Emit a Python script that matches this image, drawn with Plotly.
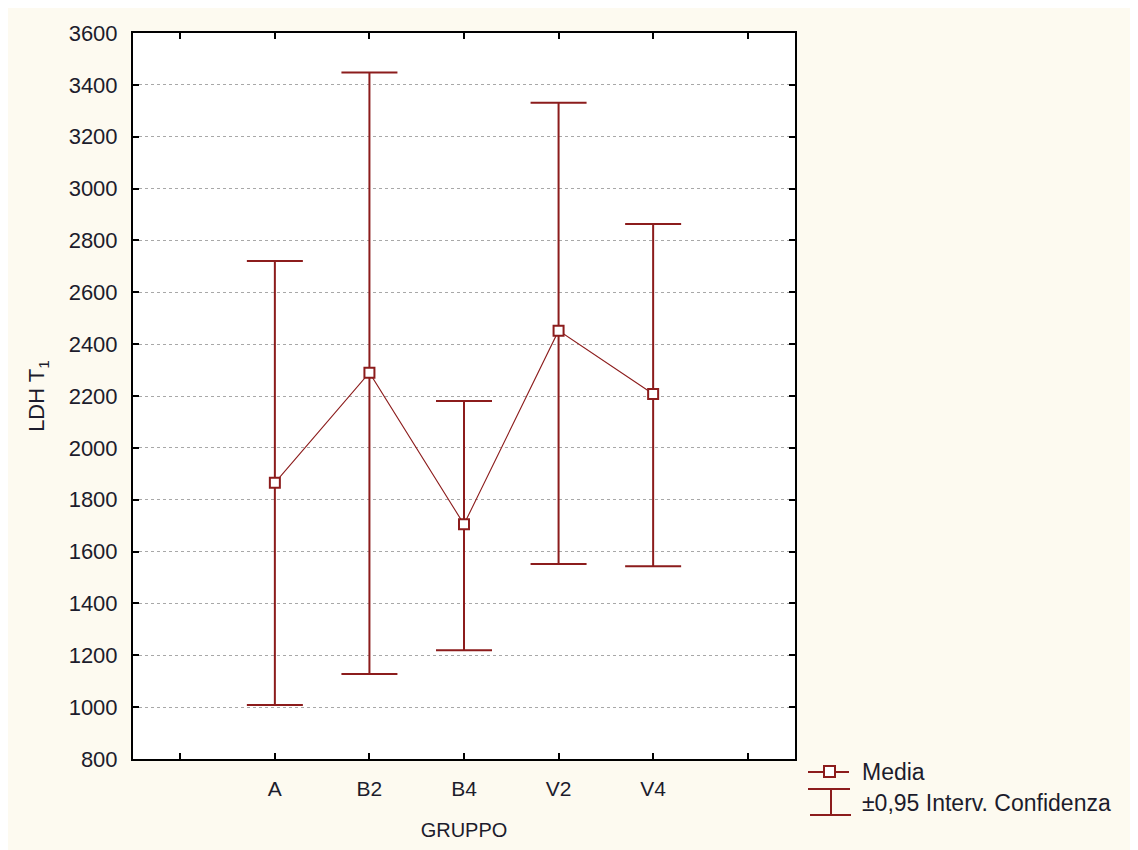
import plotly.graph_objects as go

# ---- data ----
groups = ["A", "B2", "B4", "V2", "V4"]
means = [1865, 2290, 1705, 2452, 2208]
ci_upper = [2721, 3448, 2181, 3331, 2863]
ci_lower = [1008, 1128, 1219, 1552, 1543]
y_ticks = [800, 1000, 1200, 1400, 1600, 1800, 2000, 2200, 2400, 2600, 2800, 3000, 3200, 3400, 3600]

positions = list(range(1, len(groups) + 1))
err_plus = [u - m for u, m in zip(ci_upper, means)]
err_minus = [m - l for m, l in zip(means, ci_lower)]

RED = "#8c1c1c"
TXT = "#1c1c2c"
CREAM = "#fdfaf0"
FONT = "Liberation Sans, Arial, sans-serif"

OFF = 8  # page body margin
W, H = 1130, 842
# plot frame in page pixel coordinates
L, R, T, B = 133, 795, 33, 759


def px_x(p):
    return (p - L) / (R - L)


def px_y(p):
    return (B - p) / (B - T)


fig = go.Figure()
fig.add_trace(go.Scatter(
    x=positions, y=means, mode="lines+markers",
    line=dict(color=RED, width=1.1),
    marker=dict(symbol="square", size=10, color="white", line=dict(color=RED, width=2)),
    error_y=dict(type="data", symmetric=False, array=err_plus, arrayminus=err_minus,
                 color=RED, thickness=2, width=28),
    showlegend=False, cliponaxis=False,
))

shapes = []
# legend: Media symbol
shapes.append(dict(type="line", xref="paper", yref="paper", x0=px_x(808), x1=px_x(849),
                   y0=px_y(772), y1=px_y(772), line=dict(color=RED, width=2)))
shapes.append(dict(type="rect", xref="paper", yref="paper", x0=px_x(824), x1=px_x(835),
                   y0=px_y(777), y1=px_y(766), fillcolor="white", line=dict(color=RED, width=2)))
# legend: CI symbol (I-beam)
shapes.append(dict(type="line", xref="paper", yref="paper", x0=px_x(808), x1=px_x(850),
                   y0=px_y(789), y1=px_y(789), line=dict(color=RED, width=2)))
shapes.append(dict(type="line", xref="paper", yref="paper", x0=px_x(810), x1=px_x(851),
                   y0=px_y(815), y1=px_y(815), line=dict(color=RED, width=2)))
shapes.append(dict(type="line", xref="paper", yref="paper", x0=px_x(831), x1=px_x(831),
                   y0=px_y(789), y1=px_y(815), line=dict(color=RED, width=2)))

annotations = [
    dict(text="Media", xref="paper", yref="paper", x=px_x(860), y=px_y(772),
         xanchor="left", yanchor="middle", showarrow=False,
         font=dict(family=FONT, size=23, color=TXT)),
    dict(text="±0,95 Interv. Confidenza", xref="paper", yref="paper", x=px_x(860), y=px_y(803),
         xanchor="left", yanchor="middle", showarrow=False,
         font=dict(family=FONT, size=23, color=TXT)),
]

fig.update_layout(
    width=W, height=H,
    margin=dict(l=L - OFF, r=W - (R - OFF), t=T - OFF, b=H - (B - OFF), pad=0),
    paper_bgcolor=CREAM, plot_bgcolor="white",
    font=dict(family=FONT, size=20, color=TXT),
    shapes=shapes, annotations=annotations,
    showlegend=False,
)

fig.update_xaxes(
    range=[-0.5, len(groups) + 1.5],
    tickvals=list(range(0, len(groups) + 2)),
    ticktext=[""] + groups + [""],
    ticks="inside", ticklen=6, tickwidth=2, tickcolor="black",
    showline=True, linecolor="black", linewidth=2, mirror="ticks",
    showgrid=False, zeroline=False,
    ticklabelstandoff=10,
    tickfont=dict(family=FONT, size=21, color=TXT),
    title=dict(text="GRUPPO", font=dict(family=FONT, size=20, color=TXT), standoff=24),
)
fig.update_yaxes(
    range=[800, 3600],
    tickvals=y_ticks,
    ticks="inside", ticklen=6, tickwidth=2, tickcolor="black",
    showline=True, linecolor="black", linewidth=2, mirror="ticks",
    showgrid=True, gridcolor="#a8a8a8", griddash="dot", gridwidth=1,
    zeroline=False,
    ticklabelstandoff=9,
    tickfont=dict(family=FONT, size=22, color=TXT),
    title=dict(text="LDH T<sub>1</sub>", font=dict(family=FONT, size=22, color=TXT), standoff=18),
)

fig.write_html("out.html")
